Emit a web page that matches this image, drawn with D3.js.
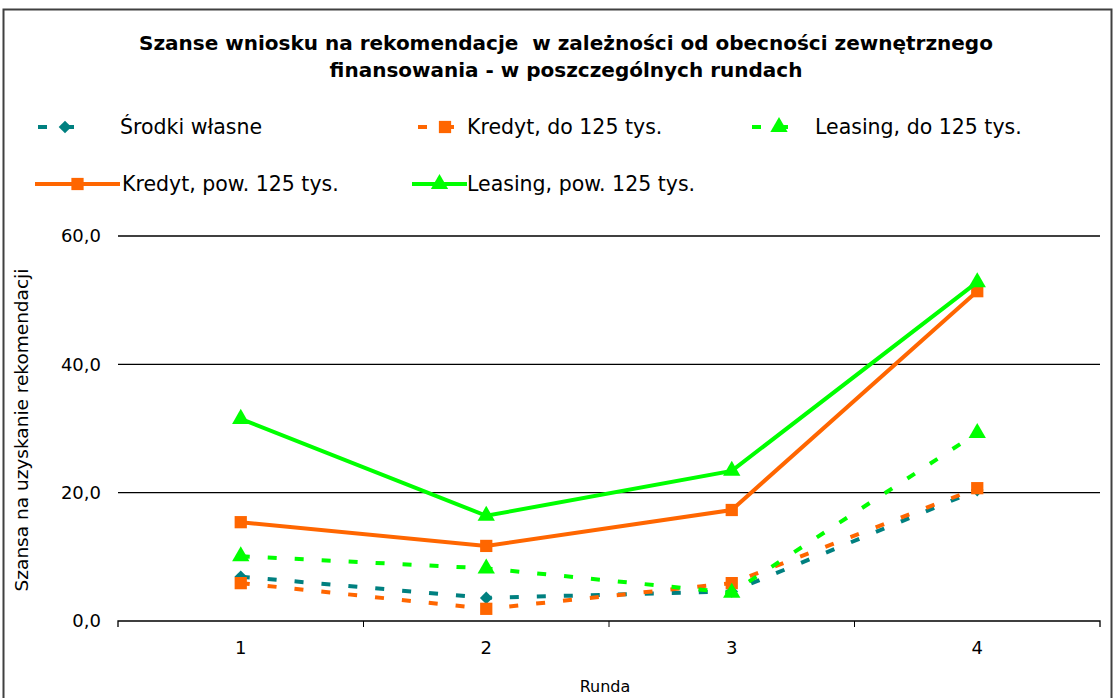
<!DOCTYPE html>
<html>
<head>
<meta charset="utf-8">
<script src="https://cdn.jsdelivr.net/npm/d3@7"></script>
<style>
  body { margin: 0; background: #fff; }
  text { font-family: "DejaVu Sans", Verdana, sans-serif; fill: #000; }
</style>
</head>
<body>
<script>
// chart data
var rounds = ["1", "2", "3", "4"];
var srodkiWlasne = [6.9, 3.6, 4.6, 20.4];
var kredytDo125 = [5.9, 1.9, 5.9, 20.7];
var leasingDo125 = [10.1, 8.2, 4.4, 29.3];
var kredytPow125 = [15.4, 11.7, 17.3, 51.4];
var leasingPow125 = [31.5, 16.4, 23.4, 52.8];
var yTicks = [0, 20, 40, 60];

var series = [
  { name: "Środki własne", values: srodkiWlasne, color: "#008080", marker: "diamond", dashed: true },
  { name: "Kredyt, do 125 tys.", values: kredytDo125, color: "#FF6600", marker: "square", dashed: true },
  { name: "Leasing, do 125 tys.", values: leasingDo125, color: "#00FF00", marker: "triangle", dashed: true },
  { name: "Kredyt, pow. 125 tys.", values: kredytPow125, color: "#FF6600", marker: "square", dashed: false },
  { name: "Leasing, pow. 125 tys.", values: leasingPow125, color: "#00FF00", marker: "triangle", dashed: false }
];

var svgWidth = 1116;
var svgHeight = 698;

var svg = d3.select("body")
  .append("svg")
  .attr("width", svgWidth)
  .attr("height", svgHeight);

// outer frame
svg.append("rect")
  .attr("x", 3.5)
  .attr("y", 9.5)
  .attr("width", 1108)
  .attr("height", 700)
  .attr("fill", "none")
  .attr("stroke", "#404040")
  .attr("stroke-width", 2);

// title
var title = svg.append("text")
  .attr("text-anchor", "middle")
  .style("font-size", "20px")
  .style("font-weight", "bold");
title.append("tspan").attr("x", 566).attr("y", 50).text("Szanse wniosku na rekomendacje  w zależności od obecności zewnętrznego").attr("xml:space", "preserve");
title.append("tspan").attr("x", 566).attr("y", 77).text("finansowania - w poszczególnych rundach");

var plot = { left: 118, right: 1100, top: 236, bottom: 621 };

var x = d3.scaleBand()
  .domain(rounds)
  .range([plot.left, plot.right]);

var y = d3.scaleLinear()
  .domain([0, 60])
  .range([plot.bottom, plot.top]);

// gridlines
svg.append("g")
  .selectAll("line")
  .data(yTicks.filter(d => d > 0))
  .enter()
  .append("line")
  .attr("x1", plot.left)
  .attr("x2", plot.right)
  .attr("y1", d => y(d))
  .attr("y2", d => y(d))
  .attr("stroke", "#000")
  .attr("stroke-width", 1.3);

// y tick labels
var yAxis = d3.axisLeft(y)
  .tickValues(yTicks)
  .tickSize(0)
  .tickPadding(17)
  .tickFormat(d => d3.format(".1f")(d).replace(".", ","));

var yG = svg.append("g")
  .attr("transform", `translate(${plot.left},0)`)
  .call(yAxis);
yG.select(".domain").remove();
yG.selectAll("text").style("font-size", "18px").style("font-family", "'DejaVu Sans', Verdana, sans-serif");

// x axis
var xAxis = d3.axisBottom(x).tickSize(0).tickPadding(20);
var xG = svg.append("g")
  .attr("transform", `translate(0,${plot.bottom})`)
  .call(xAxis);
xG.select(".domain").attr("d", `M${plot.left},6V0H${plot.right}V6`).attr("stroke", "#000").attr("stroke-width", 1.3);
xG.selectAll("text").style("font-size", "18px").style("font-family", "'DejaVu Sans', Verdana, sans-serif");

// category boundary ticks
svg.append("g")
  .selectAll("line")
  .data(rounds.slice(1))
  .enter()
  .append("line")
  .attr("x1", d => x(d))
  .attr("x2", d => x(d))
  .attr("y1", plot.bottom)
  .attr("y2", plot.bottom + 6)
  .attr("stroke", "#000")
  .attr("stroke-width", 1);

// axis titles
svg.append("text")
  .attr("transform", "translate(28,430) rotate(-90)")
  .attr("text-anchor", "middle")
  .style("font-size", "18.5px")
  .text("Szansa na uzyskanie rekomendacji");

svg.append("text")
  .attr("x", 605)
  .attr("y", 692)
  .attr("text-anchor", "middle")
  .style("font-size", "16px")
  .text("Runda");

var symbolType = {
  diamond: d3.symbolSquare,
  square: d3.symbolSquare,
  triangle: d3.symbolTriangle
};
var symbolSize = { diamond: 80, square: 150, triangle: 130 };

function drawMarker(g, s, cx, cy) {
  var rot = s.marker === "diamond" ? " rotate(45)" : "";
  g.append("path")
    .attr("d", d3.symbol().type(symbolType[s.marker]).size(symbolSize[s.marker])())
    .attr("transform", `translate(${cx},${cy})${rot}`)
    .attr("fill", s.color);
}

var line = d3.line()
  .x((d, i) => x(rounds[i]) + x.bandwidth() / 2)
  .y(d => y(d));

series.forEach(function(s) {
  var g = svg.append("g");
  g.append("path")
    .datum(s.values)
    .attr("d", line)
    .attr("fill", "none")
    .attr("stroke", s.color)
    .attr("stroke-width", 4)
    .attr("stroke-dasharray", s.dashed ? "9,18" : null);
  s.values.forEach(function(v, i) {
    drawMarker(g, s, x(rounds[i]) + x.bandwidth() / 2, y(v));
  });
});

// legend
var legendPos = [
  { x: 38, y: 127, len: 54, text: 120 },
  { x: 418, y: 127, len: 54, text: 467 },
  { x: 752, y: 127, len: 54, text: 815 },
  { x: 35, y: 184, len: 85, text: 122 },
  { x: 412, y: 184, len: 55, text: 467 }
];

series.forEach(function(s, i) {
  var p = legendPos[i];
  var g = svg.append("g");
  g.append("line")
    .attr("x1", p.x)
    .attr("x2", p.x + p.len)
    .attr("y1", p.y)
    .attr("y2", p.y)
    .attr("stroke", s.color)
    .attr("stroke-width", 4)
    .attr("stroke-dasharray", s.dashed ? "9,18" : null);
  drawMarker(g, s, p.x + p.len / 2, p.y);
  g.append("text")
    .attr("x", p.text)
    .attr("y", p.y + 7)
    .style("font-size", "20.5px")
    .text(s.name);
});
</script>
</body>
</html>
